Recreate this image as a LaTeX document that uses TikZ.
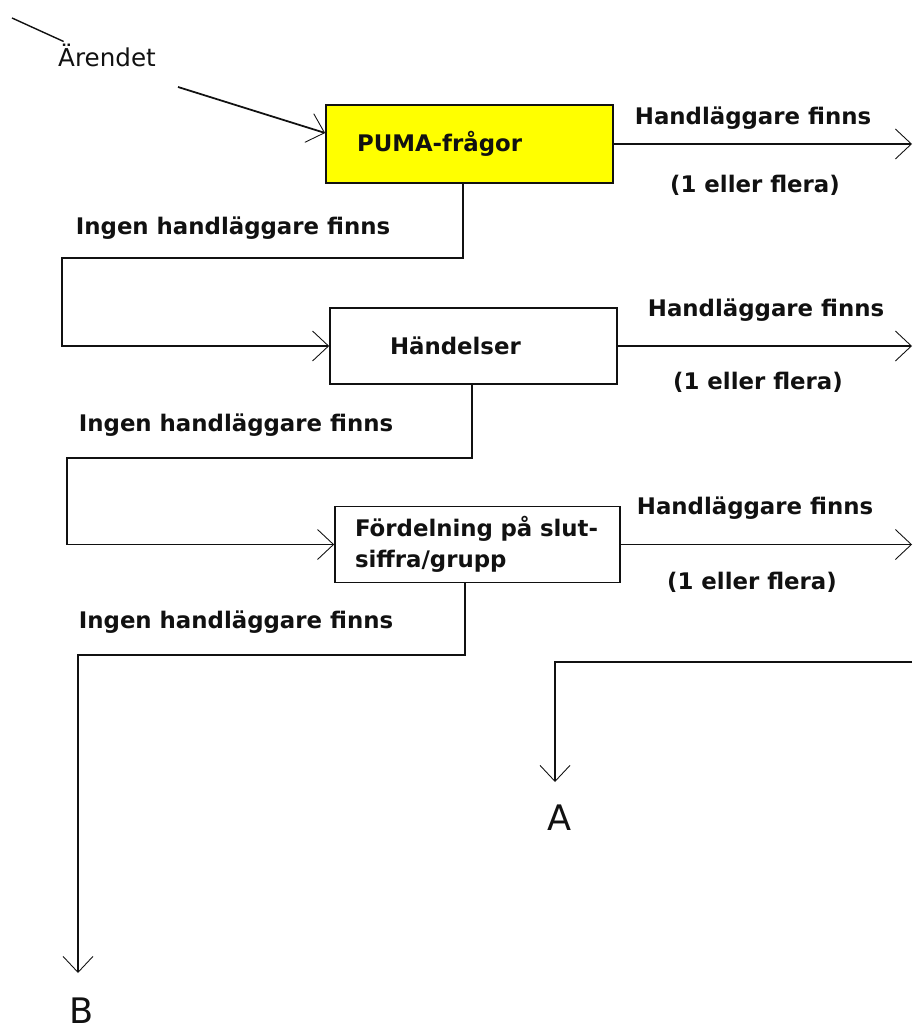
\documentclass[tikz,border=0pt]{standalone}
\usepackage{fontspec}
\setmainfont{DejaVu Sans}
\usetikzlibrary{arrows.meta,positioning}
\definecolor{pumafill}{HTML}{FFFF00}
\definecolor{ink}{HTML}{111111}

\begin{document}
\begin{tikzpicture}[
  x=0.02cm, y=-0.02cm,
  flow/.style={draw=ink, line width=1pt, -{Straight Barb[length=0.32cm, width=0.6cm, line width=0.5pt]}},
  link/.style={draw=ink, line width=1pt},
  box/.style={draw=ink, line width=1pt, minimum height=1.52cm, align=left,
    font=\fontsize{13}{18}\selectfont\bfseries, text=ink},
  cond/.style={font=\fontsize{13}{15}\selectfont\bfseries, text=ink, inner sep=1pt},
  plain/.style={font=\fontsize{14}{15}\selectfont, text=ink, inner sep=1pt},
  exit/.style={font=\fontsize{20}{22}\selectfont, text=ink, inner sep=1pt},
]
\useasboundingbox (0,0) rectangle (915,1030);

% boxes
\node[box, fill=pumafill, inner xsep=0.62cm, text width=4.5cm, minimum height=1.56cm] (puma) at (469.5,144) {PUMA-frågor};
\node[box, inner xsep=1.2cm, text width=3.34cm] (hand) at (473.5,346) {Händelser};
\node[box, inner xsep=0.4cm, text width=4.9cm] (ford) at (477.5,544.5) {Fördelning på slut-\\siffra/grupp};

% labels
\node[plain] (arende) at (107,55) {Ärendet};
\node[cond] (yes1) at (753,118) {Handläggare finns};
\node[cond] (many1) at (755,185) {(1 eller flera)};
\node[cond] (no1) at (233,228) {Ingen handläggare finns};
\node[cond] (yes2) at (766,310) {Handläggare finns};
\node[cond] (many2) at (758,382) {(1 eller flera)};
\node[cond] (no2) at (236,425) {Ingen handläggare finns};
\node[cond] (yes3) at (755,508) {Handläggare finns};
\node[cond] (many3) at (752,582) {(1 eller flera)};
\node[cond] (no3) at (236,622) {Ingen handläggare finns};
\node[exit] (exitA) at (560,818) {A};
\node[exit] (exitB) at (82,1011) {B};

% free ends
\coordinate (tail) at (12,18);
\coordinate (in) at (178,87);
\coordinate (rim) at (912,0);
\coordinate (p1) at (463,258);
\coordinate (q1) at (62,258);
\coordinate (p2) at (472,458);
\coordinate (q2) at (67,458);
\coordinate (p3) at (465,655);
\coordinate (q3) at (78,655);
\coordinate (tipB) at (78,973);
\coordinate (a1) at (912,662);
\coordinate (a2) at (555,662);
\coordinate (tipA) at (555,782);

% connectors
\draw[link, line width=0.8pt] (tail) -- ([xshift=0.15cm]arende.north west);
\draw[flow] (in) -- ([yshift=0.22cm]puma.west);
\draw[flow] (puma.east) -- (puma.east -| rim);
\draw[flow] (hand.east) -- (hand.east -| rim);
\draw[flow] (ford.east) -- (ford.east -| rim);
\draw[flow] (puma.south -| p1) -- (p1) -- (q1) |- (hand.west);
\draw[flow] (hand.south -| p2) -- (p2) -- (q2) |- (ford.west);
\draw[flow] (ford.south -| p3) -- (p3) -- (q3) -- (tipB);
\draw[flow] (a1) -- (a2) -- (tipA);

\end{tikzpicture}
\end{document}
